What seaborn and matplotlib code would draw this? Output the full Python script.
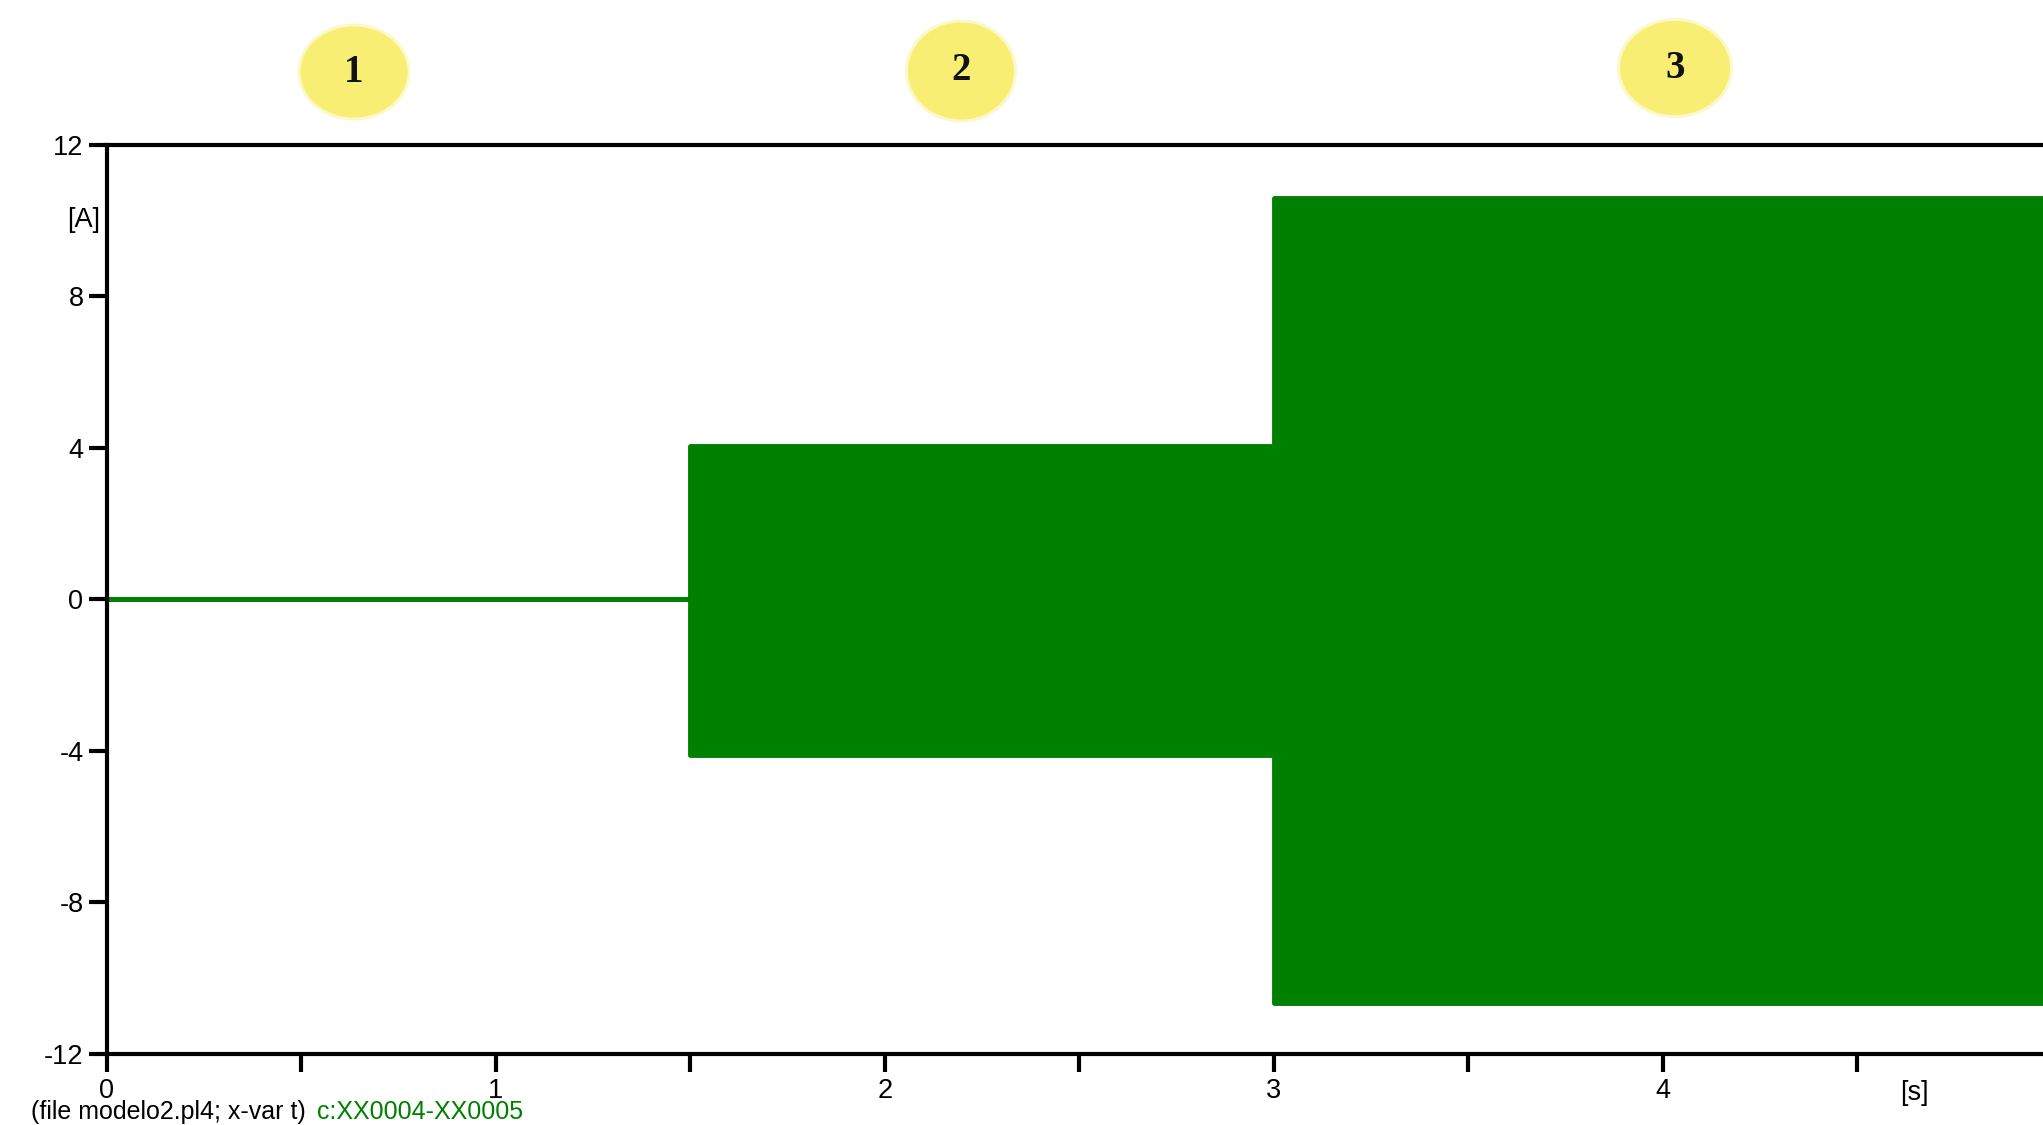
import numpy as np
import pandas as pd
import matplotlib
matplotlib.use("Agg")
import matplotlib.pyplot as plt
import seaborn as sns
from matplotlib.patches import Ellipse

# Peak current envelope of c:XX0004-XX0005 for each operating stage
stage_start = [0.0, 1.5, 3.0]          # s
stage_end = [1.5, 3.0, 4.978]          # s
peak_upper = [0.0, 4.05, 10.6]         # A
peak_lower = [0.0, -4.1, -10.65]       # A
stage_labels = ["1", "2", "3"]

y_ticks = [-12, -8, -4, 0, 4, 8, 12]
x_ticks = [0, 0.5, 1, 1.5, 2, 2.5, 3, 3.5, 4, 4.5]
x_tick_labels = ["0", "", "1", "", "2", "", "3", "", "4", ""]

# step-shaped envelope table: two points per stage
rows = []
for t0, t1, hi, lo in zip(stage_start, stage_end, peak_upper, peak_lower):
    rows.append({"t": t0, "upper": hi, "lower": lo})
    rows.append({"t": t1, "upper": hi, "lower": lo})
env = pd.DataFrame(rows)

sns.set_theme(style="ticks")
plt.rcParams["font.family"] = ["Liberation Sans", "DejaVu Sans"]
plt.rcParams["axes.unicode_minus"] = False

W, H = 2043, 1125
fig = plt.figure(figsize=(W / 100, H / 100), dpi=100)
fig.patch.set_facecolor("white")

left_px, top_px, bottom_px = 107, 145, 1054
ax = fig.add_axes([left_px / W, 1 - bottom_px / H,
                   1 - left_px / W, (bottom_px - top_px) / H])
ax.set_facecolor("white")

green = "#008000"
ax.fill_between(env["t"], env["lower"], env["upper"], color=green, lw=0, zorder=2)
sns.lineplot(data=env, x="t", y="upper", estimator=None, sort=False,
             color=green, lw=3.5, ax=ax, zorder=3)
sns.lineplot(data=env, x="t", y="lower", estimator=None, sort=False,
             color=green, lw=3.5, ax=ax, zorder=3)

ax.set_xlim(0, stage_end[-1])
ax.set_ylim(-12, 12)
ax.set_xticks(x_ticks)
ax.set_xticklabels(x_tick_labels)
ax.set_yticks(y_ticks)
ax.set_yticklabels([str(v) for v in y_ticks])
ax.set_xlabel("")
ax.set_ylabel("")
ax.grid(False)

for side in ["left", "top", "bottom"]:
    ax.spines[side].set_visible(True)
    ax.spines[side].set_color("black")
    ax.spines[side].set_linewidth(3)
    ax.spines[side].set_zorder(5)
ax.spines["right"].set_visible(False)

ax.tick_params(axis="both", direction="out", length=13, width=3,
               color="black", labelcolor="black", labelsize=19.5, pad=4)
ax.tick_params(top=False, right=False)

# unit labels
fig.text(100 / W, 1 - 220 / H, "[A]", ha="right", va="center", fontsize=19.5, color="black")
fig.text(1914 / W, 1 - 1093 / H, "[s]", ha="center", va="center", fontsize=19.5, color="black")

# file / variable caption
fig.text(31 / W, 1 - 1124 / H, "(file modelo2.pl4; x-var t)", ha="left", va="bottom",
         fontsize=18, color="black")
fig.text(317 / W, 1 - 1124 / H, "c:XX0004-XX0005", ha="left", va="bottom",
         fontsize=18, color=green)

# numbered stage markers above the plot
ov = fig.add_axes([0, 0, 1, 1], zorder=10)
ov.set_xlim(0, W)
ov.set_ylim(H, 0)
ov.axis("off")
marker_xy = [(354, 72), (961, 71), (1675, 68)]
marker_wh = [(107, 91), (106, 97), (110, 94)]
for (cx, cy), (w, h), lab in zip(marker_xy, marker_wh, stage_labels):
    ov.add_patch(Ellipse((cx, cy), w + 6, h + 6, facecolor="#FCF8C8", edgecolor="none"))
    ov.add_patch(Ellipse((cx, cy), w, h, facecolor="#F9EE74", edgecolor="none"))
    ov.text(cx, cy, lab, ha="center", va="center", fontsize=28, fontweight="bold",
            family=["Liberation Serif", "DejaVu Serif"], color="#111111")

fig.savefig("out.png", dpi=100)
